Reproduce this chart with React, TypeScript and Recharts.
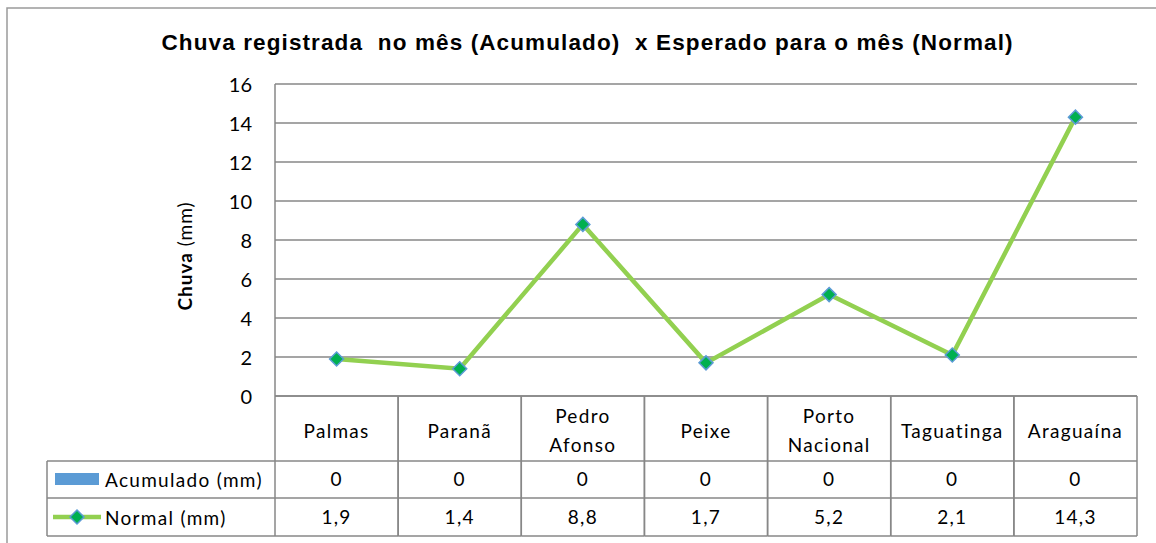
import { ComposedChart, Bar, Line, XAxis, YAxis, CartesianGrid } from "recharts";

// values
const cities = ["Palmas", "Paranã", "Pedro Afonso", "Peixe", "Porto Nacional", "Taguatinga", "Araguaína"];
const acumulado = [0, 0, 0, 0, 0, 0, 0];
const normal = [1.9, 1.4, 8.8, 1.7, 5.2, 2.1, 14.3];
const yTicks = [0, 2, 4, 6, 8, 10, 12, 14, 16];
const seriesNames = ["Acumulado (mm)", "Normal (mm)"];
const title = "Chuva registrada  no mês (Acumulado)  x Esperado para o mês (Normal)";

const W = 1156;
const H = 543;
const PLOT_L = 275;
const PLOT_R = 1137;
const PLOT_T = 84;
const PLOT_B = 396;
const ROW1 = 461;
const ROW2 = 498;
const ROW3 = 536;
const LEG_L = 47;

const GRID = "#878787";
const FONT = "Lato, 'Open Sans', sans-serif";
const BLUE = "#5B9BD5";
const GREEN = "#92D050";
const DARK_GREEN = "#00B050";

const fmt = (v: number) => String(v).replace(".", ",");

const data = cities.map((city, i) => ({
  city,
  acumulado: acumulado[i],
  normal: normal[i],
}));

const cellText = { fontFamily: FONT, fontSize: 19, letterSpacing: 1.3, fill: "#000" };

function TableTick(props: any) {
  const { x, payload } = props;
  const i = payload.index;
  const bw = (PLOT_R - PLOT_L) / cities.length;
  const left = x - bw / 2;
  const right = x + bw / 2;
  const name: string = payload.value;
  const lines = name.includes(" ") ? name.split(" ") : [name];
  return (
    <g>
      <line x1={left} y1={PLOT_B} x2={left} y2={ROW3} stroke={GRID} strokeWidth={1.5} />
      <line x1={right} y1={PLOT_B} x2={right} y2={ROW3} stroke={GRID} strokeWidth={1.5} />
      <line x1={left} y1={ROW1} x2={right} y2={ROW1} stroke={GRID} strokeWidth={1.5} />
      <line x1={left} y1={ROW2} x2={right} y2={ROW2} stroke={GRID} strokeWidth={1.5} />
      <line x1={left} y1={ROW3} x2={right} y2={ROW3} stroke={GRID} strokeWidth={1.5} />
      {lines.length === 1 ? (
        <text x={x} y={438} textAnchor="middle" {...cellText}>{lines[0]}</text>
      ) : (
        lines.map((l, k) => (
          <text key={k} x={x} y={423 + k * 29} textAnchor="middle" {...cellText}>{l}</text>
        ))
      )}
      <text x={x} y={486} textAnchor="middle" {...cellText}>{fmt(acumulado[i])}</text>
      <text x={x} y={524} textAnchor="middle" {...cellText}>{fmt(normal[i])}</text>
    </g>
  );
}

function Diamond(props: any) {
  const { cx, cy } = props;
  if (cx == null || cy == null) return null;
  const r = 7;
  return (
    <path
      d={`M${cx},${cy - r} L${cx + r},${cy} L${cx},${cy + r} L${cx - r},${cy} Z`}
      fill={DARK_GREEN}
      stroke={BLUE}
      strokeWidth={1.5}
    />
  );
}

export default function App() {
  return (
    <div style={{ position: "absolute", left: 0, top: 0, width: W, height: H, background: "#fff", overflow: "hidden" }}>
      <ComposedChart
        width={W}
        height={H}
        data={data}
        margin={{ top: PLOT_T, right: W - PLOT_R, bottom: 0, left: 0 }}
      >
        <CartesianGrid vertical={false} stroke={GRID} strokeWidth={1.5} />
        <XAxis
          dataKey="city"
          interval={0}
          height={H - PLOT_B}
          tickLine={false}
          axisLine={{ stroke: GRID, strokeWidth: 1.5 }}
          tick={<TableTick />}
        />
        <YAxis
          width={PLOT_L}
          domain={[0, 16]}
          ticks={yTicks}
          tickLine={false}
          tickMargin={17}
          axisLine={{ stroke: GRID, strokeWidth: 1.5 }}
          tick={{ fontFamily: FONT, fontSize: 20, fill: "#000", dy: 1 }}
        />
        <Bar dataKey="acumulado" name={seriesNames[0]} fill={BLUE} isAnimationActive={false} />
        <Line
          dataKey="normal"
          name={seriesNames[1]}
          stroke={GREEN}
          strokeWidth={4.5}
          dot={<Diamond />}
          activeDot={false}
          isAnimationActive={false}
        />
      </ComposedChart>
      <svg
        width={W}
        height={H}
        style={{ position: "absolute", left: 0, top: 0, pointerEvents: "none" }}
      >
        <path d={`M7,${H} L7,8 L${W},8`} fill="none" stroke="#9a9a9a" strokeWidth={1.5} />
        <text
          x={587}
          y={50}
          textAnchor="middle"
          textLength={851}
          lengthAdjust="spacing"
          style={{ whiteSpace: "pre" }}
          fontFamily="'Liberation Sans', Arial, sans-serif"
          fontWeight="bold"
          fontSize={22.5}
        >
          {title}
        </text>
        <text
          transform="translate(192,256) rotate(-90)"
          textAnchor="middle"
          fontFamily={FONT}
          fontSize={19}
          letterSpacing={1}
        >
          <tspan fontWeight="bold">Chuva</tspan>
          <tspan> (mm)</tspan>
        </text>
        {/* legend column of the data table */}
        <line x1={LEG_L} y1={ROW1} x2={PLOT_L} y2={ROW1} stroke={GRID} strokeWidth={1.5} />
        <line x1={LEG_L} y1={ROW2} x2={PLOT_L} y2={ROW2} stroke={GRID} strokeWidth={1.5} />
        <line x1={LEG_L} y1={ROW3} x2={PLOT_L} y2={ROW3} stroke={GRID} strokeWidth={1.5} />
        <line x1={LEG_L} y1={ROW1} x2={LEG_L} y2={ROW3} stroke={GRID} strokeWidth={1.5} />
        <rect x={55} y={473} width={44} height={12} fill={BLUE} />
        <text x={105} y={487} {...cellText}>{seriesNames[0]}</text>
        <line x1={53} y1={517} x2={101} y2={517} stroke={GREEN} strokeWidth={4.5} />
        <Diamond cx={77} cy={517} />
        <text x={105} y={525} {...cellText}>{seriesNames[1]}</text>
      </svg>
    </div>
  );
}
